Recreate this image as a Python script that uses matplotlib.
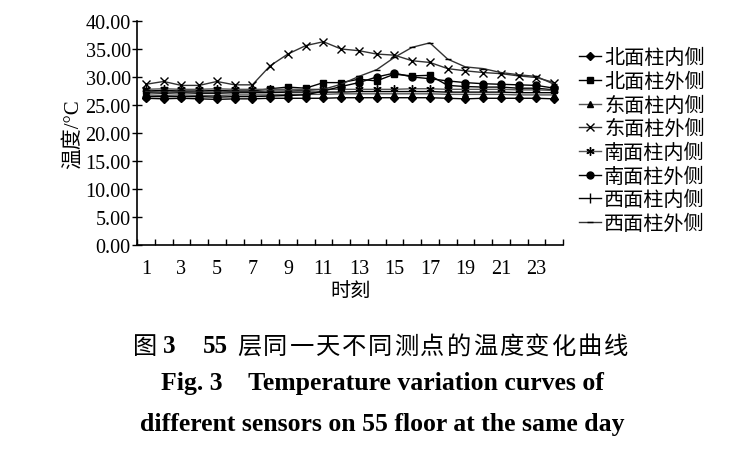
import matplotlib
matplotlib.use("Agg")
import matplotlib.pyplot as plt
from matplotlib.ticker import FixedLocator, FormatStrFormatter

plt.rcParams['font.family'] = ['Liberation Serif', 'Noto Sans CJK SC']
plt.rcParams['axes.unicode_minus'] = False

# 时刻 1..24
hours = list(range(1, 25))

# 各测点温度 (°C)
bei_nei = [26.2, 26.1, 26.2, 26.1, 26.0, 26.1, 26.1, 26.2, 26.2, 26.2, 26.2, 26.3,
           26.3, 26.3, 26.3, 26.3, 26.3, 26.2, 26.1, 26.2, 26.2, 26.2, 26.2, 26.1]
bei_wai = [27.5, 27.6, 27.5, 27.5, 27.6, 27.5, 27.5, 27.9, 28.2, 28.0, 29.0, 29.0,
           29.6, 29.3, 30.5, 30.2, 30.3, 28.5, 28.3, 28.2, 28.2, 28.0, 28.0, 27.7]
dong_nei = [26.8, 26.7, 26.8, 26.7, 26.7, 26.8, 26.8, 26.8, 26.9, 26.9, 26.9, 27.0,
            27.0, 27.0, 27.0, 27.0, 27.0, 26.9, 26.9, 26.9, 26.9, 26.8, 26.8, 26.8]
dong_wai = [28.7, 29.2, 28.5, 28.5, 29.2, 28.6, 28.6, 32.0, 34.1, 35.6, 36.3, 35.0,
            34.7, 34.1, 33.9, 32.9, 32.6, 31.5, 31.1, 30.8, 30.6, 30.2, 29.9, 29.0]
nan_nei = [27.8, 27.9, 27.8, 27.8, 27.9, 27.8, 27.8, 27.8, 27.8, 27.8, 27.8, 27.8,
           27.8, 27.8, 27.8, 27.9, 27.9, 27.8, 27.8, 27.8, 27.8, 27.7, 27.7, 27.6]
nan_wai = [26.5, 26.5, 26.5, 26.5, 26.4, 26.5, 26.5, 26.6, 26.7, 26.8, 27.5, 28.3,
           29.0, 30.0, 30.7, 30.0, 29.7, 29.3, 29.0, 28.8, 28.7, 28.6, 28.5, 28.0]
xi_nei = [27.2, 27.1, 27.2, 27.1, 27.1, 27.2, 27.2, 27.2, 27.3, 27.3, 27.3, 27.3,
          27.4, 27.4, 27.4, 27.4, 27.4, 27.3, 27.3, 27.3, 27.3, 27.2, 27.2, 27.2]
xi_wai = [27.4, 27.3, 27.4, 27.3, 27.3, 27.4, 27.4, 27.5, 27.5, 27.6, 27.8, 28.7,
          30.1, 31.3, 33.5, 35.3, 36.1, 33.2, 31.8, 31.5, 30.8, 30.4, 30.1, 28.7]

series = [
    ("北面柱内侧", bei_nei, "D", "black", 4),
    ("北面柱外侧", bei_wai, "s", "black", 5),
    ("东面柱内侧", dong_nei, "^", "#555555", 5),
    ("东面柱外侧", dong_wai, "x", "#333333", 6),
    ("南面柱内侧", nan_nei, (6, 2, 0), "#555555", 6),
    ("南面柱外侧", nan_wai, "o", "black", 5),
    ("西面柱内侧", xi_nei, "|", "black", 7),
    ("西面柱外侧", xi_wai, "_", "#333333", 5),
]

fig = plt.figure(figsize=(7.54, 4.64), dpi=100)
ax = fig.add_axes([137 / 754, 1 - 246 / 464, 426 / 754, 224 / 464])

for name, vals, mk, col, ms in series:
    ax.plot(hours, vals, color=col, lw=1.0, marker=mk, markersize=ms,
            markerfacecolor="black", markeredgecolor="black", markeredgewidth=1.0,
            label=name)

ax.set_xlim(0.5, 24.5)
ax.set_ylim(0, 40)
ax.spines['top'].set_visible(False)
ax.spines['right'].set_visible(False)
ax.spines['left'].set_linewidth(1.2)
ax.spines['bottom'].set_linewidth(1.2)

ax.xaxis.set_major_locator(FixedLocator(list(range(1, 24, 2))))
ax.xaxis.set_minor_locator(FixedLocator([h + 0.5 for h in range(0, 25)]))
ax.tick_params(axis='x', which='major', length=0, labelsize=14.5, pad=10)
ax.tick_params(axis='x', which='minor', direction='in', length=4, width=1)

ax.yaxis.set_major_locator(FixedLocator(list(range(0, 41, 5))))
ax.yaxis.set_major_formatter(FormatStrFormatter('%.2f'))
ax.tick_params(axis='y', direction='inout', length=7, width=1, labelsize=14.5, pad=1)

ax.set_xlabel("时刻", fontsize=14.5, labelpad=3)
ax.set_ylabel("温度/°C", fontsize=15, labelpad=2)

leg = ax.legend(loc='upper left', bbox_to_anchor=(571 / 754, 1 - 42 / 464),
                bbox_transform=fig.transFigure, frameon=False, fontsize=14.5,
                handlelength=1.1, handletextpad=0.15, labelspacing=0.22,
                borderaxespad=0)

# 图题
cjk = ['Noto Sans CJK SC']
cy = 1 - 347 / 464
fig.text(133 / 754, cy, "图", fontsize=17.5, family=cjk, va='center')
fig.text(163 / 754, cy, "3", fontsize=18, family='Liberation Serif',
         weight='bold', va='center')
fig.text(203 / 754, cy, "55", fontsize=18, family='Liberation Serif',
         weight='bold', va='center')
title_chars = "层同一天不同测点的温度变化曲线"
for i, ch in enumerate(title_chars):
    fig.text((237 + i * 26.2) / 754, cy, ch, fontsize=17.5, family=cjk, va='center')

fig.text(382 / 754, 1 - 384 / 464, "Fig. 3    Temperature variation curves of",
         fontsize=18.5, family='Liberation Serif', weight='bold', ha='center', va='center')
fig.text(382 / 754, 1 - 425 / 464, "different sensors on 55 floor at the same day",
         fontsize=18.5, family='Liberation Serif', weight='bold', ha='center', va='center')

fig.savefig("out.png", dpi=100)
